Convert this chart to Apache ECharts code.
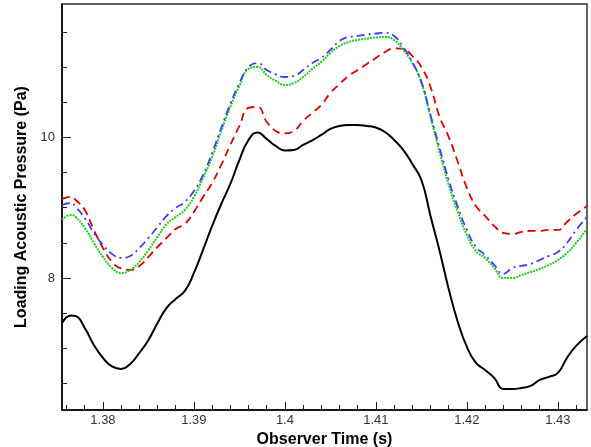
<!DOCTYPE html>
<html>
<head>
<meta charset="utf-8">
<title>Loading Acoustic Pressure</title>
<script src="https://cdn.jsdelivr.net/npm/echarts@6/dist/echarts.min.js"></script>
<style>
  html,body{margin:0;padding:0;background:#fff;}
  #main{width:591px;height:447px;}
</style>
</head>
<body>
<div id="main"></div>
<script>
// observer time (s)
var time = [1.3755, 1.3765, 1.377, 1.378, 1.379, 1.380, 1.381, 1.382, 1.383, 1.384,
  1.385, 1.386, 1.387, 1.388, 1.389, 1.390, 1.391, 1.392, 1.393, 1.394,
  1.395, 1.396, 1.397, 1.398, 1.399, 1.400, 1.401, 1.402, 1.403, 1.404,
  1.405, 1.406, 1.407, 1.408, 1.409, 1.410, 1.411, 1.412, 1.413, 1.414,
  1.415, 1.416, 1.417, 1.418, 1.419, 1.420, 1.421, 1.422, 1.423, 1.424,
  1.425, 1.426, 1.427, 1.428, 1.429, 1.430, 1.431, 1.432, 1.4332];

// solid black
var blackP = [7.359, 7.466, 7.459, 7.288, 7.046, 6.861, 6.740, 6.705, 6.776, 6.932,
  7.117, 7.359, 7.573, 7.701, 7.815, 8.071, 8.399, 8.740, 9.053, 9.338,
  9.680, 9.964, 10.071, 9.979, 9.879, 9.815, 9.822, 9.893, 9.957, 10.036,
  10.121, 10.164, 10.178, 10.178, 10.164, 10.142, 10.078, 9.964, 9.822, 9.623,
  9.395, 8.883, 8.384, 7.843, 7.374, 7.018, 6.790, 6.690, 6.577, 6.420,
  6.420, 6.434, 6.463, 6.548, 6.591, 6.648, 6.861, 7.032, 7.174];

// dashed red
var redP = [9.125, 9.153, 9.110, 8.968, 8.683, 8.427, 8.228, 8.135, 8.114, 8.171,
  8.299, 8.441, 8.569, 8.698, 8.769, 8.940, 9.153, 9.352, 9.609, 9.893,
  10.164, 10.420, 10.434, 10.221, 10.093, 10.057, 10.093, 10.235, 10.349, 10.463,
  10.633, 10.761, 10.875, 10.961, 11.046, 11.132, 11.217, 11.267, 11.260, 11.160,
  11.003, 10.719, 10.292, 10.007, 9.651, 9.281, 9.025, 8.883, 8.740, 8.641,
  8.626, 8.655, 8.669, 8.669, 8.683, 8.683, 8.797, 8.911, 9.025];

// dash-dot blue
var blueP = [9.039, 9.068, 9.011, 8.854, 8.641, 8.470, 8.342, 8.285, 8.313, 8.427,
  8.569, 8.726, 8.883, 8.996, 9.082, 9.238, 9.466, 9.779, 10.135, 10.477,
  10.776, 11.004, 11.060, 10.961, 10.897, 10.861, 10.875, 10.961, 11.060, 11.132,
  11.246, 11.374, 11.431, 11.445, 11.466, 11.480, 11.488, 11.445, 11.288, 11.075,
  10.790, 10.320, 9.851, 9.395, 9.011, 8.683, 8.441, 8.327, 8.185, 8.057,
  8.142, 8.171, 8.199, 8.256, 8.313, 8.370, 8.498, 8.683, 8.868];

// dotted green
var greenP = [8.826, 8.897, 8.868, 8.712, 8.498, 8.299, 8.142, 8.071, 8.114, 8.228,
  8.399, 8.584, 8.769, 8.868, 8.968, 9.153, 9.423, 9.722, 10.093, 10.434,
  10.733, 10.975, 11.004, 10.890, 10.804, 10.747, 10.776, 10.861, 10.975, 11.075,
  11.203, 11.302, 11.359, 11.388, 11.409, 11.423, 11.431, 11.388, 11.246, 11.060,
  10.780, 10.292, 9.794, 9.324, 8.940, 8.612, 8.384, 8.285, 8.142, 8.000,
  8.000, 8.043, 8.085, 8.128, 8.185, 8.256, 8.356, 8.498, 8.698];

var xLabels = [1.38, 1.39, 1.4, 1.41, 1.42, 1.43];
var xMinor = [1.376, 1.378, 1.382, 1.384, 1.386, 1.388, 1.392, 1.394, 1.396, 1.398,
  1.402, 1.404, 1.406, 1.408, 1.412, 1.414, 1.416, 1.418, 1.422, 1.424, 1.426, 1.428, 1.432];
var yLabels = [8, 10];
var yMinor = [6.5, 7, 7.5, 8.5, 9, 9.5, 10.5, 11, 11.5];

var xMin = 1.3755, xMax = 1.4332, yMin = 6.12, yMax = 11.9;

function pairs(vals) {
  return time.map(function (t, i) { return [t, vals[i]]; });
}

var font = 'Liberation Sans, Arial, sans-serif';
var chart = echarts.init(document.getElementById('main'), null, {renderer: 'canvas'});

chart.setOption({
  animation: false,
  backgroundColor: '#fff',
  grid: {left: 62, right: 4, top: 4, bottom: 37, containLabel: false, outerBoundsMode: 'none',
    show: true, borderColor: '#333', borderWidth: 1.5},
  xAxis: [{
    type: 'value', min: xMin, max: xMax, position: 'bottom',
    name: 'Observer Time (s)', nameLocation: 'middle', nameGap: 17,
    nameTextStyle: {fontFamily: font, fontSize: 16, fontWeight: 'bold', color: '#000'},
    axisLine: {show: true, lineStyle: {color: '#000', width: 1.5}},
    axisTick: {inside: true, length: 8, customValues: xLabels, lineStyle: {color: '#222'}},
    axisLabel: {customValues: xLabels, margin: 4, fontFamily: font, fontSize: 13, color: '#333',
      formatter: function (v) { return String(+v.toFixed(3)); }},
    splitLine: {show: false}
  }, {
    type: 'value', min: xMin, max: xMax, position: 'bottom',
    axisLine: {show: false},
    axisTick: {inside: true, length: 5, customValues: xMinor, lineStyle: {color: '#222'}},
    axisLabel: {show: false},
    splitLine: {show: false}
  }],
  yAxis: [{
    type: 'value', min: yMin, max: yMax, position: 'left',
    name: 'Loading Acoustic Pressure (Pa)', nameLocation: 'middle', nameGap: 22,
    nameTextStyle: {fontFamily: font, fontSize: 16, fontWeight: 'bold', color: '#000'},
    axisLine: {show: true, lineStyle: {color: '#000', width: 1.5}},
    axisTick: {inside: true, length: 9, customValues: yLabels, lineStyle: {color: '#222'}},
    axisLabel: {customValues: yLabels, margin: 7, fontFamily: font, fontSize: 13, color: '#333'},
    splitLine: {show: false}
  }, {
    type: 'value', min: yMin, max: yMax, position: 'left',
    axisLine: {show: false},
    axisTick: {inside: true, length: 5, customValues: yMinor, lineStyle: {color: '#222'}},
    axisLabel: {show: false},
    splitLine: {show: false}
  }],
  series: [{
    type: 'line', data: pairs(blackP), showSymbol: false, smooth: 0.5,
    lineStyle: {color: '#000', width: 2}
  }, {
    type: 'line', data: pairs(redP), showSymbol: false, smooth: 0.5,
    lineStyle: {color: '#dd0000', width: 1.8, type: [8, 5]}
  }, {
    type: 'line', data: pairs(greenP), showSymbol: false, smooth: 0.5,
    lineStyle: {color: '#1ecc1e', width: 2, type: [2, 1]}
  }, {
    type: 'line', data: pairs(blueP), showSymbol: false, smooth: 0.5,
    lineStyle: {color: '#3d3dff', width: 1.8, type: [8, 4, 2, 4]}
  }]
});
</script>
</body>
</html>
